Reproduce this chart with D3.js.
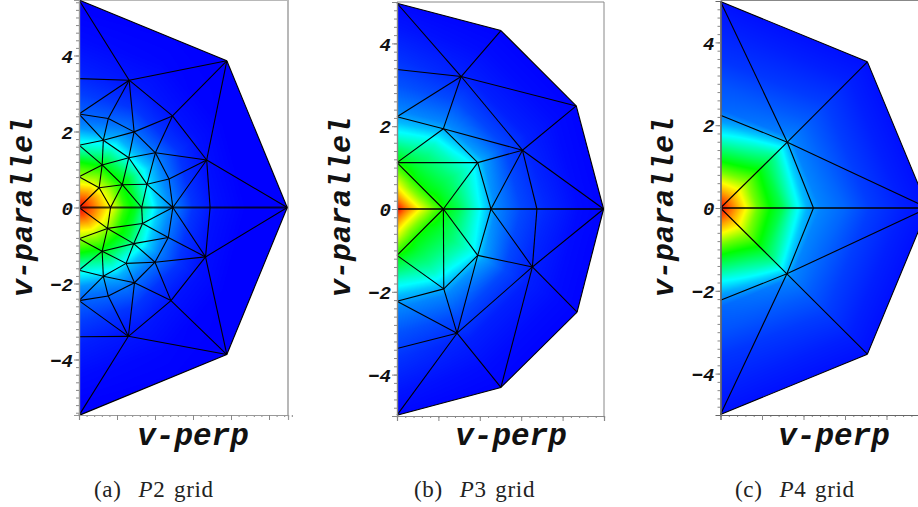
<!DOCTYPE html>
<html>
<head>
<meta charset="utf-8">
<script src="https://d3js.org/d3.v7.min.js"></script>
<style>
html, body { margin: 0; padding: 0; background: #fff; overflow: hidden; }
svg { display: block; }
.tick-label, .axis-label { font-family: "Liberation Mono", monospace; font-weight: bold; font-style: italic; fill: #111; }
.caption { font-family: "Liberation Serif", serif; font-size: 23px; word-spacing: 2px; letter-spacing: 0.7px; fill: #222; }
</style>
</head>
<body>
<svg id="chart" width="918" height="507"></svg>
<script>
// mesh nodes: id, v-perp, v-parallel
var p2Nodes = [
    ["O",0,0],["A1",0,5.46],["A2",3.89,3.86],["A3",5.48,0],["A4",0,3.39],["A5",1.32,3.35],
    ["A6",0,2.46],["A7",.77,2.34],["A8",1.45,1.99],["A9",2.46,2.41],["A10",.64,1.77],["A11",0,1.64],
    ["A12",1.31,1.31],["A13",2.01,1.44],["A14",3.36,1.25],["A15",.61,1.12],["A16",0,.81],["A17",.53,.52],
    ["A18",1.14,.6],["A19",1.79,.61],["A20",2.37,.75],["A21",.83,0],["A22",1.65,0],["A23",2.47,0],["A24",3.45,0],
    ["B1",0,-5.47],["B2",3.89,-3.87],["B4",0,-3.4],["B5",1.3,-3.39],["B6",0,-2.45],["B7",.77,-2.33],
    ["B8",1.46,-1.98],["B9",2.42,-2.45],["B10",.64,-1.81],["B11",0,-1.65],["B12",1.24,-1.47],["B13",2,-1.44],
    ["B14",3.33,-1.3],["B15",.61,-1.15],["B16",0,-.82],["B17",.75,-.55],["B18",1.44,-.95],["B19",1.67,-.42],["B20",2.35,-.79]
];
var p2Edges = [
    "A1 A2","A2 A3","A1 A5","A4 A5","A5 A2","A5 A6","A5 A7","A5 A8","A5 A9","A2 A9","A2 A14","A3 A14","A9 A14",
    "A9 A8","A9 A13","A6 A7","A6 A10","A7 A8","A7 A10","A8 A10","A8 A12","A8 A13","A10 A11","A10 A15","A11 A15",
    "A10 A12","A12 A15","A12 A13","A12 A18","A12 A19","A13 A19","A13 A20","A13 A14","A14 A20","A14 A24","A14 A23",
    "A20 A19","A20 A23","A19 A18","A19 A22","A19 A23","A18 A15","A18 A17","A18 A21","A18 A22","A15 A16","A15 A17",
    "A16 A17","A17 O","A17 A21",
    "O B17","B16 B17","A21 B17","B17 B19","A22 B19","B19 A23","B19 B20","A23 B20","B17 B18","B17 B15","B16 B15",
    "B15 B18","B19 B18","B18 B20","B18 B12","B15 B12","B15 B11","B15 B10","B11 B10","B10 B12","B12 B13","B12 B8",
    "B13 B18","B13 B20","B13 B14","B20 B14","B14 A23","B14 A24","B14 A3","B14 B9","B14 B2","B13 B9","B13 B8","B8 B9",
    "B8 B10","B8 B7","B10 B7","B10 B6","B6 B7","B7 B5","B8 B5","B9 B5","B6 B5","B4 B5","B5 B1","B5 B2","B9 B2","B2 A3","B1 B2"
];
var p2AxisEdges = ["O A21","A21 A22","A22 A23","A23 A24","A24 A3"];
var p2Hull = ["A1","A2","A3","B2","B1"];

var p3Nodes = [
    ["O",0,0],["C1",0,4.97],["C2",2.51,4.31],["C3",4.33,2.49],["C4",4.99,0],["C5",0,3.37],["C6",1.55,3.2],
    ["C7",0,2.23],["C8",1.12,1.94],["C9",3.03,1.42],["C10",0,1.12],["C11",1.95,1.12],["C12",1.12,0],["C13",2.27,0],["C14",3.38,0],
    ["D1",0,-4.98],["D2",2.51,-4.31],["D3",4.35,-2.49],["D5",0,-3.37],["D6",1.45,-3],["D7",0,-2.23],
    ["D8",1.13,-1.93],["D9",3.27,-1.4],["D10",0,-1.12],["D11",1.95,-1.12]
];
var p3Edges = [
    "C1 C2","C2 C3","C3 C4","C1 C6","C2 C6","C5 C6","C6 C3","C6 C7","C6 C8","C6 C9","C3 C9","C4 C9","C7 C8","C8 C9",
    "C8 C10","C8 C11","C11 C9","C10 C11","C10 C12","C11 C12","C11 C13","C9 C13","C9 C14",
    "D1 D2","D2 D3","D3 C4","D1 D6","D2 D6","D5 D6","D7 D6","D8 D6","D6 D9","D6 D11","D9 D2","D9 D3","D9 C4","D9 C14",
    "D9 C13","D9 D11","C13 D11","C12 D11","C12 D8","C12 D10","D10 D8","D7 D8","D8 D11"
];
var p3AxisEdges = ["O C12","C12 C13","C13 C14","C14 C4"];
var p3Hull = ["C1","C2","C3","C4","D3","D2","D1"];

var p4Nodes = [
    ["O",0,0],["E1",0,4.99],["E2",3.54,3.53],["E3",5,0],["E4",0,2.24],["E5",1.61,1.59],["E6",2.24,0],
    ["F1",0,-4.99],["F2",3.54,-3.53],["F4",0,-2.23],["F5",1.6,-1.59]
];
var p4Edges = [
    "E1 E2","E2 E3","E1 E5","E2 E5","E4 E5","E5 O","E5 E6","E5 E3",
    "F1 F2","F2 E3","F1 F5","F2 F5","F4 F5","F5 O","F5 E6","F5 E3"
];
var p4AxisEdges = ["O E6","E6 E3"];
var p4Hull = ["E1","E2","E3","F2","F1"];

// colour level of the field, rows = spoke angle, columns = radius; lower half mirrors the upper
var fieldRadii = [0,.2,.4,.6,.9,1.2,1.5,1.8,2.1,2.4,3,3.6,4.4,5.2,6.5];
var p2Angles = [0,30,60,90];
var p2Levels = [
    [1,.95,.89,.82,.72,.55,.47,.31,.20,.14,.05,.015,0,0,0],
    [1,.94,.87,.80,.67,.53,.45,.31,.20,.13,.05,.015,0,0,0],
    [1,.94,.86,.78,.64,.52,.40,.28,.17,.12,.05,.02,.005,0,0],
    [1,.93,.85,.76,.62,.50,.34,.23,.14,.10,.06,.03,.01,0,0]
];
var p3Angles = [0,30,60,90];
var p3Levels = [
    [1,.90,.82,.73,.60,.49,.42,.32,.22,.13,.07,.04,.01,0,0],
    [1,.87,.75,.63,.49,.44,.39,.33,.26,.16,.07,.03,.01,0,0],
    [1,.87,.75,.63,.49,.43,.37,.30,.20,.13,.07,.03,.01,0,0],
    [1,.90,.82,.74,.61,.48,.38,.27,.18,.13,.08,.05,.02,0,0]
];
var p4Angles = [0,45,90];
var p4Levels = [
    [1,.92,.84,.76,.60,.50,.42,.28,.17,.13,.10,.06,.03,.01,0],
    [1,.91,.83,.76,.63,.53,.44,.36,.24,.13,.09,.06,.03,.01,0],
    [1,.93,.84,.76,.60,.47,.36,.24,.15,.10,.08,.05,.03,.01,0]
];

var yMajor = [4,2,0,-2,-4];
var jetLevels = [0,.25,.5,.75,1];
var jetColors = ["#0000ff","#00ffff","#00ff00","#ffff00","#ff0000"];
var color = d3.scaleLinear().domain(jetLevels).range(jetColors).clamp(true);

var svg = d3.select("#chart");

function minorTicks(lo, hi) {
    return d3.range(Math.round(lo * 5), Math.round(hi * 5) + 1).map(function(d) { return d / 5; });
}

// colour level at a point: straight chords between neighbouring spokes, table lookup along the radius
function fieldLevel(vx, vy, angles, levels) {
    var ay = Math.abs(vy);
    var theta = Math.atan2(ay, vx) * 180 / Math.PI;
    var s = Math.min(d3.bisectRight(angles, theta) - 1, angles.length - 2);
    var t0 = angles[s] * Math.PI / 180, t1 = angles[s + 1] * Math.PI / 180;
    var d0 = [Math.cos(t0), Math.sin(t0)], d1 = [Math.cos(t1), Math.sin(t1)];
    var c0 = vx * d0[1] - ay * d0[0], c1 = vx * d1[1] - ay * d1[0];
    var u = Math.abs(c0 - c1) < 1e-9 ? 0 : c0 / (c0 - c1);
    var dx = d0[0] + (d1[0] - d0[0]) * u, dy = d0[1] + (d1[1] - d0[1]) * u;
    var r = Math.sqrt(vx * vx + ay * ay) / Math.sqrt(dx * dx + dy * dy);
    var j = Math.min(d3.bisectRight(fieldRadii, r) - 1, fieldRadii.length - 2);
    var w = Math.min(1, (r - fieldRadii[j]) / (fieldRadii[j + 1] - fieldRadii[j]));
    var v0 = levels[s][j] + (levels[s][j + 1] - levels[s][j]) * w;
    var v1 = levels[s + 1][j] + (levels[s + 1][j + 1] - levels[s + 1][j]) * w;
    return v0 + (v1 - v0) * u;
}

function drawField(g, x, y, opt) {
    var x0 = opt.xRange[0], y0 = Math.floor(opt.yRange[0]);
    var w = Math.ceil(Math.min(918, opt.xRange[1]) - x0), h = Math.ceil(opt.yRange[1] - y0);
    var canvas = document.createElement("canvas");
    canvas.width = w; canvas.height = h;
    var ctx = canvas.getContext("2d");
    var img = ctx.createImageData(w, h);
    var lut = d3.range(512).map(function(i) { return d3.rgb(color(i / 511)); });
    for (var py = 0; py < h; py++) for (var pxl = 0; pxl < w; pxl++) {
        var v = fieldLevel(x.invert(x0 + pxl + .5), y.invert(y0 + py + .5), opt.angles, opt.levels);
        var c = lut[Math.round(v * 511)], k = (py * w + pxl) * 4;
        img.data[k] = c.r; img.data[k + 1] = c.g; img.data[k + 2] = c.b; img.data[k + 3] = 255;
    }
    ctx.putImageData(img, 0, 0);
    g.append("image").attr("x", x0).attr("y", y0).attr("width", w).attr("height", h)
        .attr("href", canvas.toDataURL());
}

function drawPanel(opt) {
    var x = d3.scaleLinear().domain(opt.xDomain).range(opt.xRange);
    var y = d3.scaleLinear().domain(opt.yDomain).range(opt.yRange);
    var g = svg.append("g");
    var byId = new Map(opt.nodes.map(function(n) { return [n[0], [n[1], n[2]]]; }));
    function px(id) { var n = byId.get(id); return [x(n[0]), y(n[1])]; }

    // frame, top and right
    g.append("path")
        .attr("d", "M" + x(0) + "," + opt.frameTop + "H" + opt.xRange[1] + "V" + opt.yRange[1])
        .attr("fill", "none").attr("stroke", opt.frameColor).attr("stroke-width", opt.frameWidth);

    // shaded field, clipped to the outer boundary of the mesh
    var clipId = "hull" + opt.name;
    g.append("clipPath").attr("id", clipId).append("path")
        .attr("d", "M" + opt.hull.map(px).join("L") + "Z");
    drawField(g.append("g").attr("clip-path", "url(#" + clipId + ")"), x, y, opt);

    // mesh
    function edgePath(e) { var s = e.split(" "); return "M" + px(s[0]) + "L" + px(s[1]); }
    g.selectAll("path.edge").data(opt.edges).join("path")
        .attr("class", "edge").attr("d", edgePath)
        .attr("stroke", "#000").attr("stroke-width", 1.1).attr("fill", "none");
    g.selectAll("path.axisedge").data(opt.axisEdges).join("path")
        .attr("class", "axisedge").attr("d", edgePath)
        .attr("stroke", "#000").attr("stroke-opacity", opt.axisOpacity)
        .attr("stroke-width", opt.axisWidth).attr("fill", "none");

    // axes
    var yMinor = g.append("g").attr("transform", "translate(" + x(0) + ",0)")
        .call(d3.axisLeft(y).tickValues(minorTicks(-opt.yDomain[0], opt.yDomain[0])).tickSize(3).tickFormat(""));
    var yAxis = g.append("g").attr("transform", "translate(" + x(0) + ",0)")
        .call(d3.axisLeft(y).tickValues(yMajor).tickSize(5).tickPadding(3));
    var xMinor = g.append("g").attr("transform", "translate(0," + opt.yRange[1] + ")")
        .call(d3.axisBottom(x).tickValues(minorTicks(0, opt.xDomain[1])).tickSize(2).tickFormat(""));
    var xAxis = g.append("g").attr("transform", "translate(0," + opt.yRange[1] + ")")
        .call(d3.axisBottom(x).tickValues(d3.range(0, opt.xDomain[1] + .01)).tickSize(5).tickFormat(""));
    [yMinor, yAxis, xMinor, xAxis].forEach(function(a) {
        a.selectAll("line").attr("stroke", "#888");
        a.select(".domain").attr("stroke", opt.spineColor).attr("stroke-width", 1.2);
    });
    yAxis.selectAll("text")
        .attr("class", "tick-label").style("font-size", "19px")
        .attr("dy", "0.35em").attr("x", -6);

    // titles
    g.append("text").attr("class", "axis-label")
        .attr("transform", "translate(" + opt.yLabelX + ",207) rotate(-90)")
        .attr("text-anchor", "middle").style("font-size", "30px").text("v-parallel");
    g.append("text").attr("class", "axis-label")
        .attr("x", opt.xLabelX).attr("y", 445)
        .attr("text-anchor", "middle").style("font-size", "31px").text("v-perp");

    var cap = g.append("text").attr("class", "caption").attr("x", opt.captionX).attr("y", 497);
    cap.append("tspan").text("(" + opt.letter + ")\u00a0 ");
    cap.append("tspan").style("font-style", "italic").text("P");
    cap.append("tspan").text(opt.order + " grid");
}

drawPanel({
    name: "a", letter: "a", order: 2, nodes: p2Nodes, edges: p2Edges, axisEdges: p2AxisEdges, hull: p2Hull,
    angles: p2Angles, levels: p2Levels,
    xDomain: [0, 5.5], xRange: [79, 288], yDomain: [5.46, -5.46], yRange: [0, 415],
    frameTop: 0, frameColor: "#b8b8b8", frameWidth: 2, spineColor: "#999",
    axisWidth: 2, axisOpacity: .75, yLabelX: 32, xLabelX: 193, captionX: 94
});
drawPanel({
    name: "b", letter: "b", order: 3, nodes: p3Nodes, edges: p3Edges, axisEdges: p3AxisEdges, hull: p3Hull,
    angles: p3Angles, levels: p3Levels,
    xDomain: [0, 5], xRange: [397, 604], yDomain: [5, -5], yRange: [2, 416],
    frameTop: 2, frameColor: "#888", frameWidth: 1, spineColor: "#888",
    axisWidth: 1.3, axisOpacity: 1, yLabelX: 350, xLabelX: 511, captionX: 414
});
drawPanel({
    name: "c", letter: "c", order: 4, nodes: p4Nodes, edges: p4Edges, axisEdges: p4AxisEdges, hull: p4Hull,
    angles: p4Angles, levels: p4Levels,
    xDomain: [0, 5], xRange: [720.5, 928], yDomain: [5, -5], yRange: [1, 415],
    frameTop: 0.5, frameColor: "#888", frameWidth: 1, spineColor: "#666",
    axisWidth: 2, axisOpacity: .75, yLabelX: 673, xLabelX: 834, captionX: 735
});
</script>
</body>
</html>
